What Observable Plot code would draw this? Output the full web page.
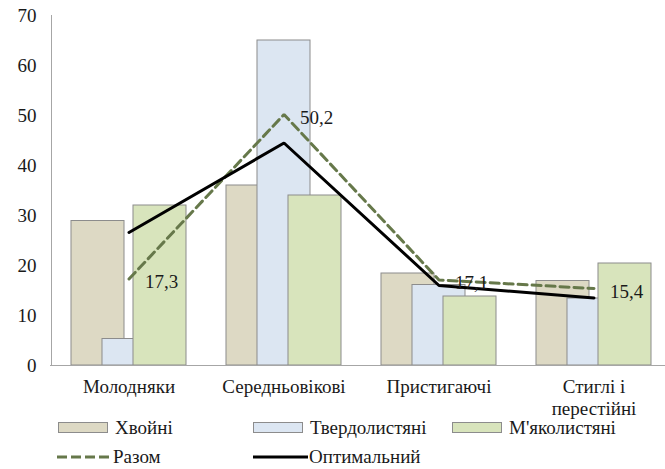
<!DOCTYPE html>
<html>
<head>
<meta charset="utf-8">
<script src="https://cdn.jsdelivr.net/npm/d3@7"></script>
<script src="https://cdn.jsdelivr.net/npm/@observablehq/plot@0.6"></script>
<style>
  body { margin: 0; background: #fff; font-family: "Liberation Serif", "DejaVu Serif", serif; }
  #wrap { position: relative; width: 665px; height: 469px; overflow: hidden; }
  #chart svg { display: block; }
  .leg { position: absolute; display: flex; align-items: center; font-size: 19px; line-height: 1; color: #1a1a1a; white-space: nowrap; }
  .sw { width: 48px; height: 9px; border: 1px solid #8c8c8c; margin-right: 7px; }
  .ln { margin-right: 1px; display: block; }
</style>
</head>
<body>
<div id="wrap">
  <div id="chart"></div>
  <div id="legend"></div>
</div>
<script>
// ---- data ----
const categories = ["Молодняки", "Середньовікові", "Пристигаючі", "Стиглі і\nперестійні"];
const seriesNames = ["Хвойні", "Твердолистяні", "М'яколистяні"];
const khvoini = [28.9, 36.0, 18.4, 16.9];
const tverdolystiani = [5.3, 65.0, 16.1, 13.4];
const miakolystiani = [32.0, 34.0, 13.8, 20.4];
const razom = [17.3, 50.2, 17.1, 15.4];
const optymalnyi = [26.6, 44.5, 16.0, 13.5];
const yTicks = [0, 10, 20, 30, 40, 50, 60, 70];

// ---- styles ----
const barColors = ["#ddd9c4", "#dce6f2", "#d8e4bc"];
const barStroke = "#8c8c8c";
const razomColor = "#66784a";
const font = "Liberation Serif, DejaVu Serif, serif";

// build rect table (overlapping clustered bars like the original)
const barWidth = 0.342, barStep = 0.2;
const seriesValues = [khvoini, tverdolystiani, miakolystiani];
const rects = [];
seriesValues.forEach((vals, k) => {
  vals.forEach((v, i) => {
    const c = i + (k - 1) * barStep;
    rects.push({series: seriesNames[k], x1: c - barWidth / 2, x2: c + barWidth / 2, value: v, k});
  });
});
const idx = categories.map((_, i) => i);
const fmt = v => String(v.toFixed(1)).replace(".", ",");

const plot = Plot.plot({
  width: 665,
  height: 420,
  marginLeft: 50,
  marginRight: 0,
  marginTop: 15,
  marginBottom: 55,
  style: {fontFamily: font, fontSize: "19px", color: "#1a1a1a", background: "#fff"},
  x: {domain: [-0.5, 3.5], range: [51, 671], axis: null},
  y: {domain: [0, 70], range: [365, 15], axis: null},
  marks: [
    Plot.gridY(yTicks, {x1: 50, x2: 671, stroke: "#c8c8c8", strokeOpacity: 1}),
    Plot.axisY(yTicks, {tickSize: 0, tickPadding: 14, fontSize: 19, tickFormat: d => d, label: null}),
    Plot.rect(rects, {x1: "x1", x2: "x2", y1: 0, y2: "value", fill: d => barColors[d.k], stroke: barStroke, strokeWidth: 1}),
    Plot.ruleX([-0.5], {y1: 0, y2: 70, stroke: "#a6a6a6"}),
    Plot.ruleY([0], {stroke: "#a6a6a6"}),
    Plot.line(idx, {x: i => i, y: i => razom[i], stroke: razomColor, strokeWidth: 3, strokeDasharray: "9,5", strokeLinejoin: "miter"}),
    Plot.line(idx, {x: i => i, y: i => optymalnyi[i], stroke: "#000", strokeWidth: 3, strokeLinejoin: "miter"}),
    Plot.text(idx, {x: i => i, y: i => razom[i], text: i => fmt(razom[i]), dx: 16, dy: 3, textAnchor: "start", fontSize: 19, fill: "#1a1a1a"}),
    Plot.text(idx, {x: i => i, y: 0, text: i => categories[i], dy: 12, lineAnchor: "top", lineHeight: 1.15, fontSize: 19, fill: "#1a1a1a"})
  ]
});
document.getElementById("chart").appendChild(plot);

// ---- legend (HTML, below/around the SVG) ----
const legend = document.getElementById("legend");
const legPos = [[58, 418], [253, 418], [452, 418]];
seriesNames.forEach((name, k) => {
  const d = document.createElement("div");
  d.className = "leg";
  d.style.left = legPos[k][0] + "px";
  d.style.top = legPos[k][1] + "px";
  d.innerHTML = `<span class="sw" style="background:${barColors[k]}"></span><span>${name}</span>`;
  legend.appendChild(d);
});
const lineItems = [
  {name: "Разом", color: razomColor, dash: "10,4", left: 57},
  {name: "Оптимальний", color: "#000", dash: "none", left: 253}
];
lineItems.forEach(it => {
  const d = document.createElement("div");
  d.className = "leg";
  d.style.left = it.left + "px";
  d.style.top = "447px";
  d.innerHTML = `<svg class="ln" width="55" height="8"><line x1="0" x2="55" y1="4" y2="4" stroke="${it.color}" stroke-width="3" stroke-dasharray="${it.dash}"/></svg><span>${it.name}</span>`;
  legend.appendChild(d);
});
</script>
</body>
</html>
